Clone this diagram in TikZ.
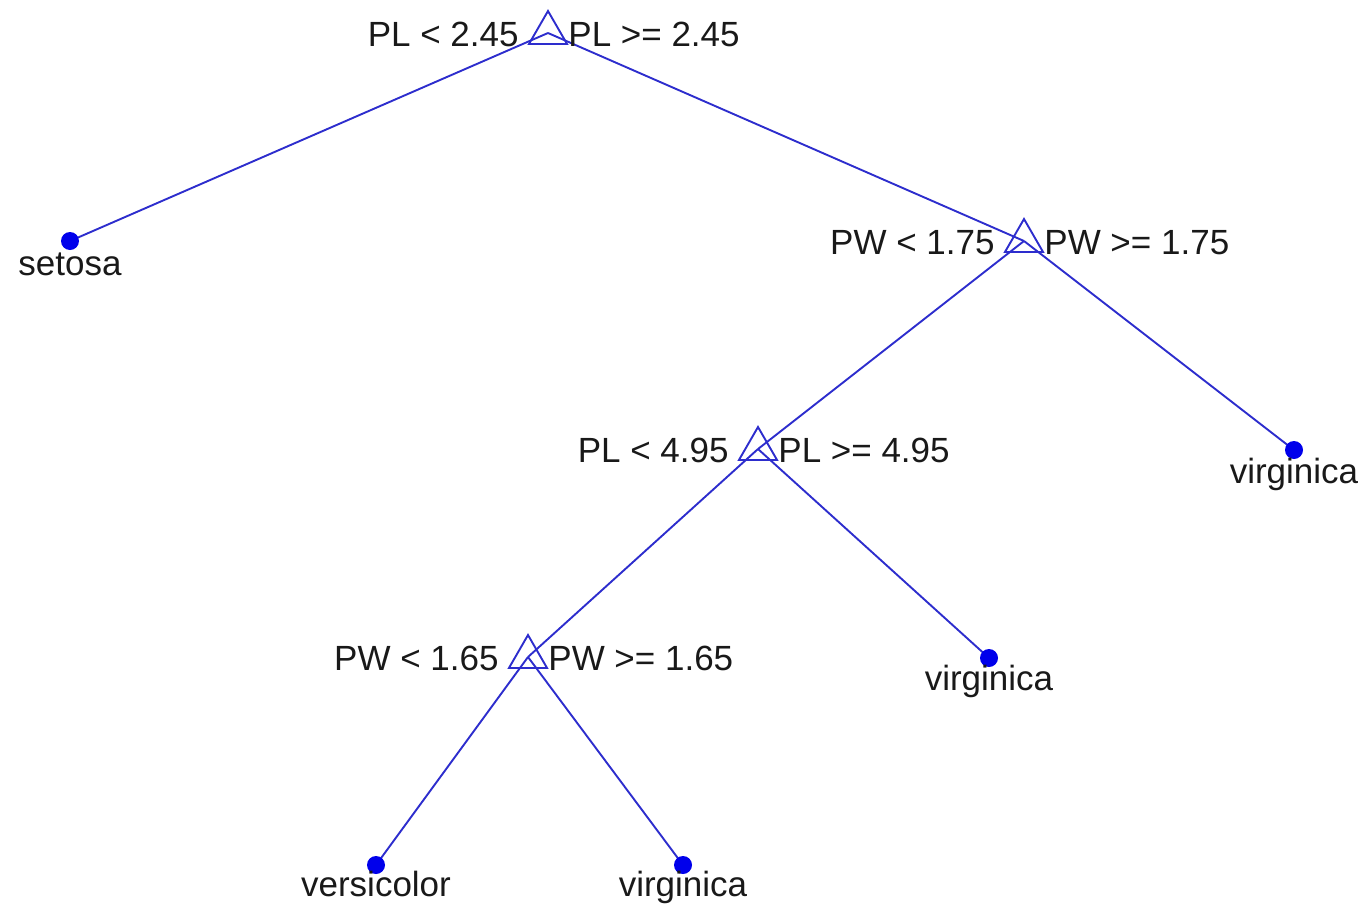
\documentclass[tikz,border=0pt]{standalone}
\usepackage{fontspec}
\setmainfont{Liberation Sans}
\usetikzlibrary{shapes.geometric}
\definecolor{edgeblue}{RGB}{45,45,205}
\definecolor{dotblue}{RGB}{0,0,235}
\definecolor{txt}{RGB}{25,25,25}
\begin{document}
\begin{tikzpicture}[x=0.5pt,y=-0.5pt,
  font=\fontsize{17.5}{20}\selectfont,
  split/.style={regular polygon, regular polygon sides=3, draw=edgeblue, line width=0.95pt,
    minimum size=22pt, inner sep=0pt, outer sep=0pt},
  leaf/.style={circle, fill=dotblue, minimum size=9pt, inner sep=0pt, outer sep=0pt},
  edge/.style={draw=edgeblue, line width=0.95pt},
  lbl/.style={text=txt, inner sep=0pt},
]
\useasboundingbox (0,0) rectangle (1366,905);
% node positions
\coordinate (r) at (548,33);
\coordinate (s) at (70,241);
\coordinate (n2) at (1024,241);
\coordinate (vr) at (1294,450);
\coordinate (n3) at (758,449);
\coordinate (vm) at (989,658);
\coordinate (n4) at (528,657);
\coordinate (ve) at (376,865);
\coordinate (vb) at (683,865);
% edges
\draw[edge] (r) -- (s);
\draw[edge] (r) -- (n2);
\draw[edge] (n2) -- (n3);
\draw[edge] (n2) -- (vr);
\draw[edge] (n3) -- (n4);
\draw[edge] (n3) -- (vm);
\draw[edge] (n4) -- (ve);
\draw[edge] (n4) -- (vb);
% split markers
\node[split] (tr) at (r) {};
\node[split] (t2) at (n2) {};
\node[split] (t3) at (n3) {};
\node[split] (t4) at (n4) {};
% leaves
\node[leaf] (ls) at (s) {};
\node[leaf] (lvr) at (vr) {};
\node[leaf] (lvm) at (vm) {};
\node[leaf] (lve) at (ve) {};
\node[leaf] (lvb) at (vb) {};
% split labels
\node[lbl, anchor=base east] (a1) at ([shift={(-29,13)}]r) {PL < 2.45};
\node[lbl, anchor=base west] (b1) at ([shift={(20,13)}]r) {PL >= 2.45};
\node[lbl, anchor=base east] (a2) at ([shift={(-29,13)}]n2) {PW < 1.75};
\node[lbl, anchor=base west] (b2) at ([shift={(20,13)}]n2) {PW >= 1.75};
\node[lbl, anchor=base east] (a3) at ([shift={(-29,13)}]n3) {PL < 4.95};
\node[lbl, anchor=base west] (b3) at ([shift={(20,13)}]n3) {PL >= 4.95};
\node[lbl, anchor=base east] (a4) at ([shift={(-29,13)}]n4) {PW < 1.65};
\node[lbl, anchor=base west] (b4) at ([shift={(20,13)}]n4) {PW >= 1.65};
% leaf labels
\node[lbl, anchor=base] (ts) at ([shift={(0,34)}]s) {setosa};
\node[lbl, anchor=base] (tvr) at ([shift={(0,33)}]vr) {virginica};
\node[lbl, anchor=base] (tvm) at ([shift={(0,32)}]vm) {virginica};
\node[lbl, anchor=base] (tve) at ([shift={(0,31)}]ve) {versicolor};
\node[lbl, anchor=base] (tvb) at ([shift={(0,31)}]vb) {virginica};
\end{tikzpicture}
\end{document}
